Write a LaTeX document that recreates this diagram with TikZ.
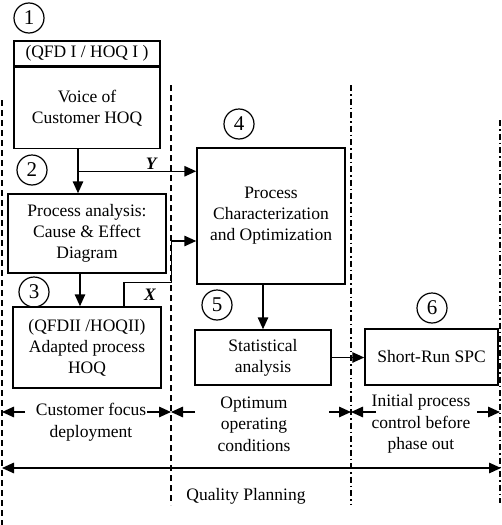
\documentclass[tikz,border=0pt]{standalone}
\usepackage{fontspec}
\setmainfont{Liberation Serif}
\usetikzlibrary{arrows.meta,calc}

\begin{document}
\begin{tikzpicture}[x=1pt, y=-1pt, >={Triangle[length=12pt,width=10.5pt]}]

    \tikzset{%
    every box/.style={
        draw,
        line width=1.5pt,
        inner sep=0pt,
        align=center,
        font=\fontsize{17.5}{21}\selectfont
        },
    num circle/.style={
        draw,
        circle,
        line width=1.2pt,
        minimum size=30pt,
        inner sep=0pt,
        font=\fontsize{21}{21}\selectfont
        },
    flow/.style={->, line width=1.5pt},
    flow label/.style={font=\fontsize{17.5}{21}\selectfont\bfseries\itshape},
    zone dashed/.style={line width=2pt, dash pattern=on 6pt off 4pt},
    zone dashdot/.style={line width=2pt, dash pattern=on 6pt off 3pt on 1.5pt off 3pt},
    zone label/.style={align=center, font=\fontsize{17.5}{21.5}\selectfont},
    }

    \useasboundingbox (0,0) rectangle (502,525);

    % Boxes of the planning steps
    \node [every box, minimum width=146pt, minimum height=25pt] (qfd-head) at (87,53.5) {(QFD I / HOQ I )};
    \node [every box, minimum width=146pt, minimum height=81pt, anchor=north] (voice) at (qfd-head.south) {Voice of\\Customer HOQ};
    \node [every box, minimum width=158pt, minimum height=79pt] (cause) at (87,233.5) {Process analysis:\\Cause \& Effect\\Diagram};
    \node [every box, minimum width=148pt, minimum height=81pt] (adapted) at (87,347.5) {(QFDII /HOQII)\\Adapted process\\HOQ};
    \node [every box, minimum width=148pt, minimum height=136pt] (optim) at (271,216) {Process\\Characterization\\and Optimization};
    \node [every box, minimum width=136pt, minimum height=55pt] (stat) at (263,357.5) {Statistical\\analysis};
    \node [every box, minimum width=133pt, minimum height=56pt] (spc) at (431.5,357) {Short-Run SPC};

    % Step numbers
    \foreach \n/\x/\y in {1/29/18, 2/32/170, 3/34/292, 4/239/124, 5/217/305, 6/432/308}
    \node [num circle] (num-\n) at (\x,\y) {\n};

    % Phase boundaries
    \foreach \x/\t/\b/\s in {2/100/525/zone dashed, 171/85/505/zone dashed, 351/85/505/zone dashdot, 500/120/503/zone dashdot}
    \draw [\s] (\x,\t) -- (\x,\b);

    % Flow between the steps
    \draw [flow] ($(voice.south)+(-9,0)$) -- ($(cause.north)+(-9,0)$);
    \coordinate (split) at ($(voice.south)+(-9,22)$);
    \draw [flow] (split) -- (split -| optim.west) node [flow label, pos=0.62, above, inner sep=1pt] {Y};

    \draw [flow] ($(cause.south)+(-7,0)$) -- ($(adapted.north)+(-7,0)$);
    \coordinate (xstart) at ($(adapted.north)+(37,0)$);
    \coordinate (xjoin) at ($(optim.west)+(0,25)$);
    \draw [flow] (xstart) -- ++(0,-24) -| ($(xjoin)+(-25,0)$) -- (xjoin);
    \node [flow label] (x-label) at ($(xstart)+(26,-11)$) {X};

    \draw [flow] (optim.south -| stat.north) -- (stat.north);
    \draw [flow] (stat.east) -- (stat.east -| spc.west);

    % Phase labels
    \node [zone label] (customer) at (91,422) {Customer focus\\deployment};
    \node [zone label] (optimum) at (254,424) {Optimum\\operating\\conditions};
    \node [zone label] (initial) at (421,424) {Initial process\\control before\\phase out};

    \foreach \i/\x in {1/2, 2/171, 3/351, 4/500}
    \coordinate (bound-\i) at (\x,412);

    \draw [flow] ($(bound-1)+(23,0)$) -- (bound-1);
    \draw [flow] ($(bound-2)+(-24,0)$) -- (bound-2);
    \draw [flow] ($(bound-2)+(24,0)$) -- (bound-2);
    \draw [flow] ($(bound-3)+(-22,0)$) -- (bound-3);
    \draw [flow] ($(bound-3)+(25,0)$) -- (bound-3);
    \draw [flow] ($(bound-4)+(-23,0)$) -- (bound-4);

    % Overall span
    \coordinate (plan-left) at (2,468);
    \coordinate (plan-right) at (501,468);
    \draw [flow, <->] (plan-left) -- (plan-right);
    \node [zone label] (planning) at (246,496) {Quality Planning};

\end{tikzpicture}
\end{document}
